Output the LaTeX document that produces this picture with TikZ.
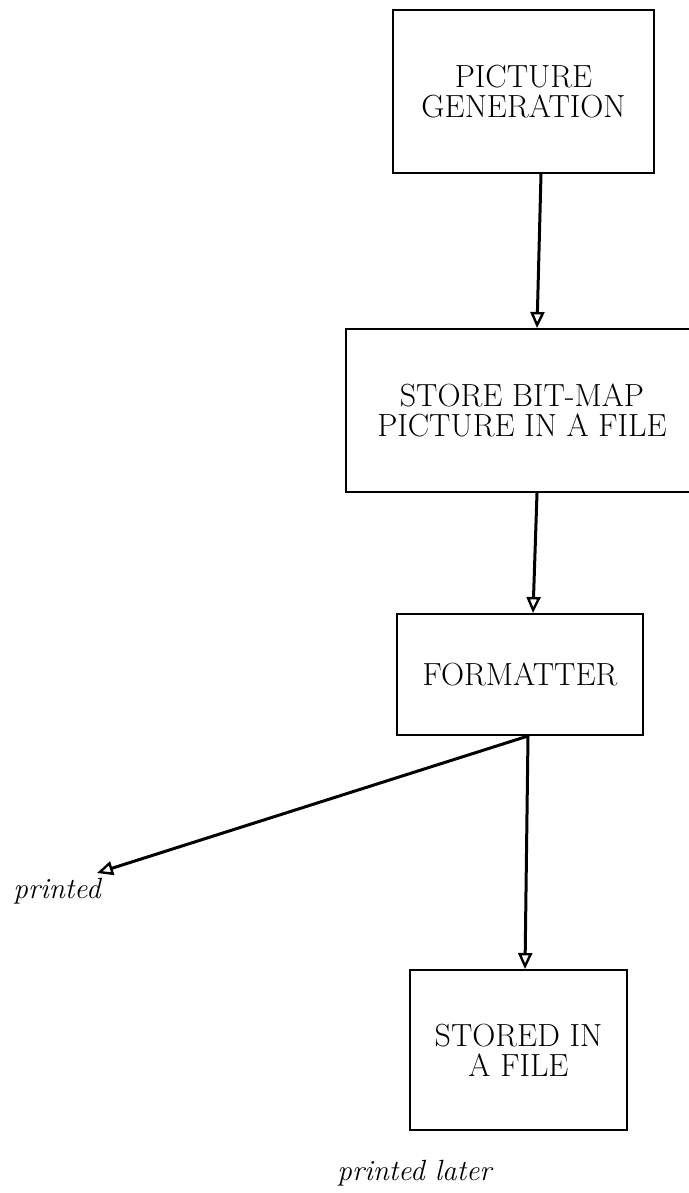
\documentclass[tikz,border=0pt]{standalone}
\usepackage{amsmath}
\usepackage{tikz}
\usetikzlibrary{arrows.meta}

\begin{document}
\begin{tikzpicture}[x=0.5pt,y=-0.5pt,
	box/.style={draw,line width=1pt,inner sep=0pt,align=center,
		font=\fontsize{16}{15}\selectfont},
	flow/.style={line width=1.5pt,-{Triangle[open,length=8pt,width=7pt,line width=1.2pt]}},
	note/.style={inner sep=0pt,font=\fontsize{14.6}{15}\selectfont\itshape}]

	\clip (0,0) rectangle (689,1193);

	\node[box,minimum width=130.5pt,minimum height=81.5pt] (gen) at (523.5,91.5) {PICTURE\\GENERATION};
	\node[box,minimum width=176pt,minimum height=81.5pt] (store) at (522,410.5) {STORE BIT-MAP\\PICTURE IN A FILE};
	\node[box,minimum width=123pt,minimum height=60.5pt] (fmt) at (520,674.5) {FORMATTER};
	\node[box,minimum width=108.5pt,minimum height=80pt] (stored) at (518.5,1050) {STORED IN\\A FILE};

	\node[note,anchor=base west] (printnow) at (13,898) {printed};
	\node[note,anchor=base west] (printlater) at (337,1180) {printed later};
	\coordinate (tip) at (97,873);

	\draw[flow] ([xshift=8.75pt]gen.south) -- ([xshift=7.5pt]store.north);
	\draw[flow] ([xshift=7.5pt]store.south) -- ([xshift=6.5pt]fmt.north);
	\draw[flow] ([xshift=4pt]fmt.south) -- ([xshift=3.25pt]stored.north);
	\draw[flow] ([xshift=4pt]fmt.south) -- (tip);

\end{tikzpicture}
\end{document}
